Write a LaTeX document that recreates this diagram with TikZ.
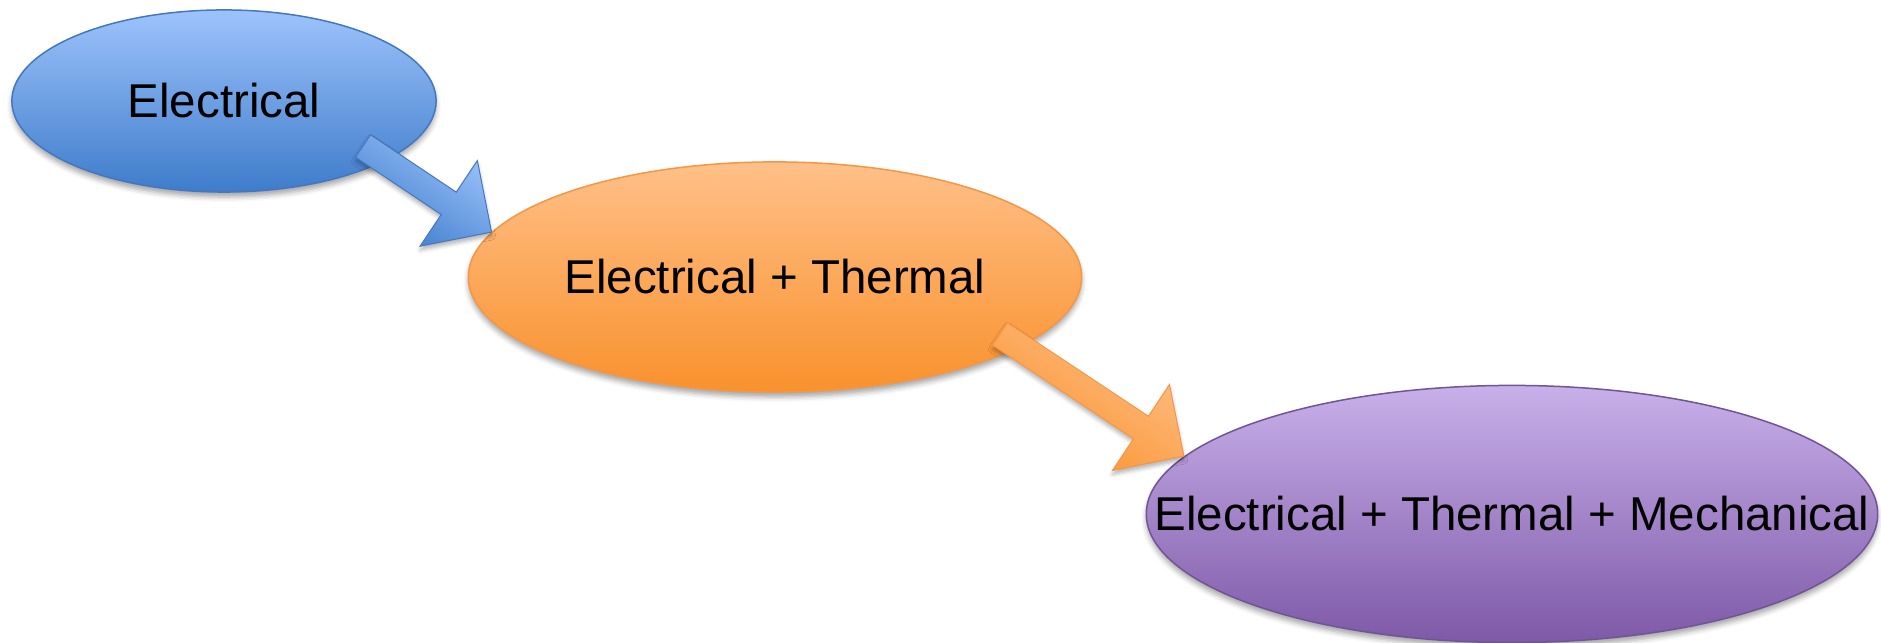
\documentclass[tikz,border=0pt]{standalone}
\usepackage{fontspec}
\setmainfont{Liberation Sans}
\usetikzlibrary{shapes.geometric,shapes.arrows,shadows.blur,calc}
\definecolor{elecTop}{RGB}{157,195,251}
\definecolor{elecBot}{RGB}{62,124,203}
\definecolor{elecLine}{RGB}{70,118,190}
\definecolor{thermTop}{RGB}{255,192,136}
\definecolor{thermBot}{RGB}{249,145,45}
\definecolor{thermLine}{RGB}{244,150,70}
\definecolor{mechTop}{RGB}{200,176,234}
\definecolor{mechBot}{RGB}{126,89,167}
\definecolor{mechLine}{RGB}{112,84,150}
\newcommand{\stagetext}[1]{\makebox[0pt]{#1}}
\begin{document}
\begin{tikzpicture}[x=0.01cm, y=0.01cm,
  stage/.style={ellipse, inner sep=0pt, line width=0.015cm,
    font=\fontsize{13.5}{16}\selectfont,
    blur shadow={shadow xshift=0cm, shadow yshift=-0.05cm, shadow blur radius=0.05cm, shadow opacity=35}},
  flow/.style={single arrow, inner xsep=0pt, inner ysep=0.13cm, outer sep=0pt, line width=0.01cm,
    single arrow head extend=0.38cm, single arrow tip angle=90,
    sloped, anchor=tail, pos=0,
    blur shadow={shadow xshift=0cm, shadow yshift=-0.04cm, shadow blur radius=0.04cm, shadow opacity=30}}]
\useasboundingbox (0,0) rectangle (1881,643);
\node[stage, draw=elecLine, top color=elecTop, bottom color=elecBot, minimum width=4.24cm, minimum height=1.82cm] (elec) at (224,542) {\stagetext{Electrical}};
\node[stage, draw=thermLine, top color=thermTop, bottom color=thermBot, minimum width=6.13cm, minimum height=2.30cm] (therm) at (775,366) {\stagetext{Electrical + Thermal}};
\node[stage, draw=mechLine, top color=mechTop, bottom color=mechBot, minimum width=7.31cm, minimum height=2.57cm] (mech) at (1512,129) {\stagetext{Electrical + Thermal + Mechanical}};
\coordinate (elecout) at (363,497);
\coordinate (thermout) at (1000,309);
\path let \p1=($(therm.171)-(elecout)$), \n1={veclen(\x1,\y1)} in
  (elecout) -- (therm.171) node[flow, minimum height=\n1, draw=elecLine, top color=elecTop, bottom color=elecBot, shading angle=-34] (arrowA) {};
\path let \p1=($(mech.170)-(thermout)$), \n1={veclen(\x1,\y1)} in
  (thermout) -- (mech.170) node[flow, minimum height=\n1, draw=thermLine, top color=thermTop, bottom color=thermBot, shading angle=-34] (arrowB) {};
\end{tikzpicture}
\end{document}
